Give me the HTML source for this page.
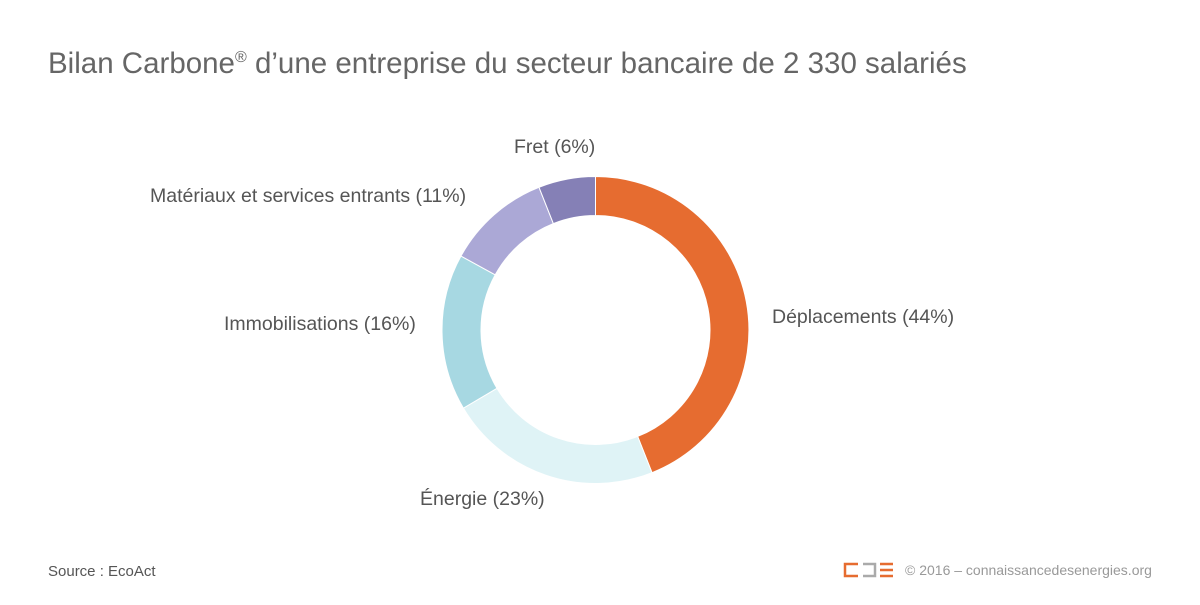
<!DOCTYPE html>
<html><head><meta charset="utf-8"><style>
body{margin:0;background:#fff;}
svg text{font-family:"Liberation Sans",sans-serif;}
</style></head><body>
<svg width="1200" height="600" viewBox="0 0 1200 600" xmlns="http://www.w3.org/2000/svg">
<rect width="1200" height="600" fill="#fff"/>
<text x="48" y="73" font-size="29.5" fill="#666">Bilan Carbone<tspan font-size="16" dy="-11">®</tspan><tspan dy="11"> d’une entreprise du secteur bancaire de 2 330 salariés</tspan></text>
<g stroke="#fff" stroke-width="1">
<path fill="#e66c30" d="M595.5,176.5 A153.5,153.5 0 0 1 652,472.7 L637.65,436.46 A114.5,114.5 0 0 0 595.5,215.5Z"/>
<path fill="#dff3f6" d="M652,472.7 A153.5,153.5 0 0 1 463.38,408.13 L496.95,388.28 A114.5,114.5 0 0 0 637.65,436.46Z"/>
<path fill="#a7d8e2" d="M463.38,408.13 A153.5,153.5 0 0 1 460.99,256.04 L495.16,274.83 A114.5,114.5 0 0 0 496.95,388.28Z"/>
<path fill="#aba8d6" d="M460.99,256.04 A153.5,153.5 0 0 1 539,187.28 L553.35,223.54 A114.5,114.5 0 0 0 495.16,274.83Z"/>
<path fill="#8580b6" d="M539,187.28 A153.5,153.5 0 0 1 595.5,176.5 L595.5,215.5 A114.5,114.5 0 0 0 553.35,223.54Z"/>
</g>
<g font-size="19.5" fill="#555">
<text x="514" y="153">Fret (6%)</text>
<text x="150" y="202">Matériaux et services entrants (11%)</text>
<text x="224" y="330">Immobilisations (16%)</text>
<text x="772" y="323">Déplacements (44%)</text>
<text x="420" y="505">Énergie (23%)</text>
</g>
<text x="48" y="576" font-size="15" fill="#555">Source : EcoAct</text>
<g fill="none" stroke-width="2.5">
<path d="M858 564 H845 V576 H858" stroke="#e66c30"/>
<path d="M863 564 H875 V576 H863" stroke="#aaa"/>
<path d="M880 564 H893 M880 570 H893 M880 576 H893" stroke="#e66c30"/>
</g>
<text x="905" y="575" font-size="14" fill="#999">© 2016 – connaissancedesenergies.org</text>
</svg>
</body></html>
